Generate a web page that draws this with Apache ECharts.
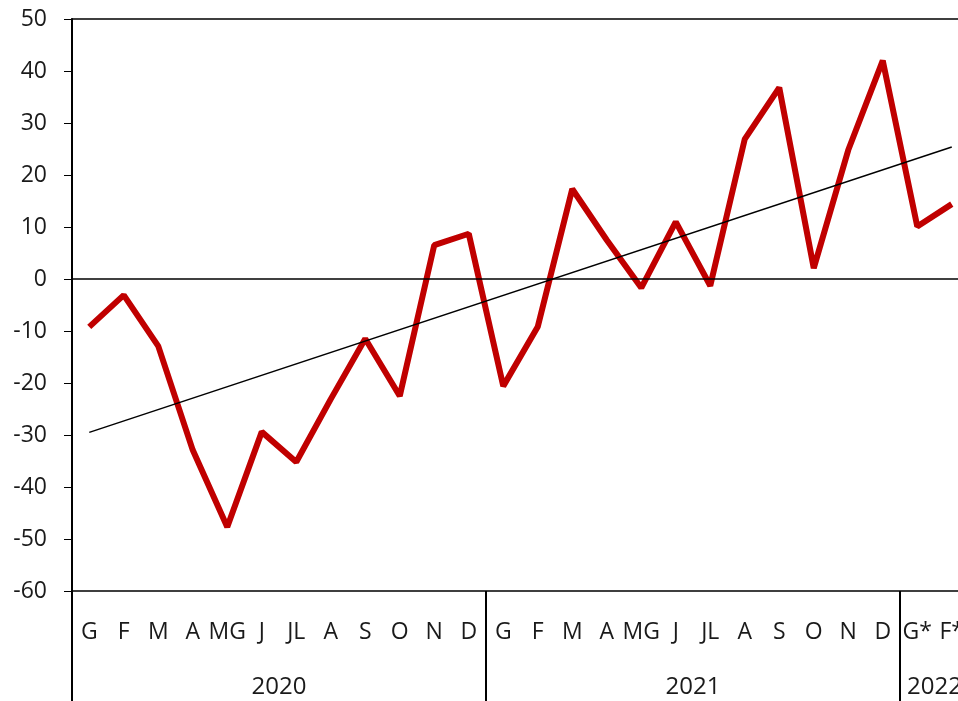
<!DOCTYPE html>
<html><head><meta charset="utf-8">
<script src="https://cdn.jsdelivr.net/npm/echarts@6/dist/echarts.min.js"></script>
<style>html,body{margin:0;padding:0;background:#fff}#c{width:958px;height:701px}</style>
</head><body><div id="c"></div>
<script>
const months2020 = ['G','F','M','A','MG','J','JL','A','S','O','N','D'];
const months2021 = ['G','F','M','A','MG','J','JL','A','S','O','N','D'];
const months2022 = ['G*','F*'];
const values2020 = [-9.2,-3.1,-12.9,-32.9,-47.7,-29.4,-35.2,-23.1,-11.5,-22.5,6.5,8.7];
const values2021 = [-20.6,-9.2,17.3,7.5,-1.7,11.0,-1.3,26.9,36.8,2.1,24.8,42.0];
const values2022 = [10.1,14.4];
const years = ['2020','2021','2022'];
const trendStart = -29.5;
const trendEnd = 25.4;
const yMin = -60, yMax = 50, yStep = 10;

const categories = months2020.concat(months2021, months2022);
const values = values2020.concat(values2021, values2022);
const groups = [months2020.length, months2021.length, months2022.length];
const boundaryIdx = []; const labelIdx = {};
let acc = 0;
groups.forEach((n, i) => { boundaryIdx.push(acc); labelIdx[acc + Math.ceil(n/2)] = years[i]; acc += n; });
const trend = values.map((v, i) => i === 0 ? trendStart : (i === values.length - 1 ? trendEnd : null));

const FONT = 'Open Sans';
const chart = echarts.init(document.getElementById('c'));
chart.setOption({
  animation: false,
  grid: { left: 72, top: 19, width: 897, bottom: 110, outerBoundsMode: 'none', containLabel: false },
  xAxis: [
    { type: 'category', data: categories, position: 'bottom', boundaryGap: true,
      axisLine: { show: true, onZero: false, lineStyle: { color: '#000', width: 1.5 } },
      axisTick: { show: false },
      axisLabel: { interval: 0, margin: 30, fontFamily: FONT, fontSize: 23, color: '#1a1a1a', hideOverlap: false } },
    { type: 'category', data: categories, position: 'bottom', boundaryGap: true,
      axisLine: { show: false, onZero: false },
      axisTick: { show: true, length: 110, interval: (i) => boundaryIdx.indexOf(i) >= 0,
                  lineStyle: { color: '#000', width: 2 } },
      axisLabel: { interval: (i) => labelIdx[i] !== undefined, formatter: (v, i) => labelIdx[i] || '',
                   margin: 84, fontFamily: FONT, fontSize: 24, color: '#1a1a1a', padding: [0, 34.5, 0, 0], hideOverlap: false } },
    { type: 'category', data: categories, position: 'top', boundaryGap: true,
      axisLine: { show: true, onZero: false, lineStyle: { color: '#000', width: 1.5 } },
      axisTick: { show: false }, axisLabel: { show: false } }
  ],
  yAxis: {
    type: 'value', min: yMin, max: yMax, interval: yStep,
    axisLine: { show: true, lineStyle: { color: '#000', width: 2 } },
    axisTick: { show: true, length: 8, lineStyle: { color: '#000', width: 1 } },
    axisLabel: { margin: 25, fontFamily: FONT, fontSize: 23, color: '#1a1a1a' },
    splitLine: { show: false }
  },
  series: [
    { type: 'line', data: values, symbol: 'none', lineStyle: { color: '#C00000', width: 6 },
      z: 3,
      markLine: { silent: true, symbol: 'none', label: { show: false },
        lineStyle: { color: '#000', width: 1.5, type: 'solid' }, data: [{ yAxis: 0 }] } },
    { type: 'line', data: trend, connectNulls: true, symbol: 'none',
      lineStyle: { color: '#000', width: 1.5 }, z: 4 }
  ]
});
</script></body></html>
